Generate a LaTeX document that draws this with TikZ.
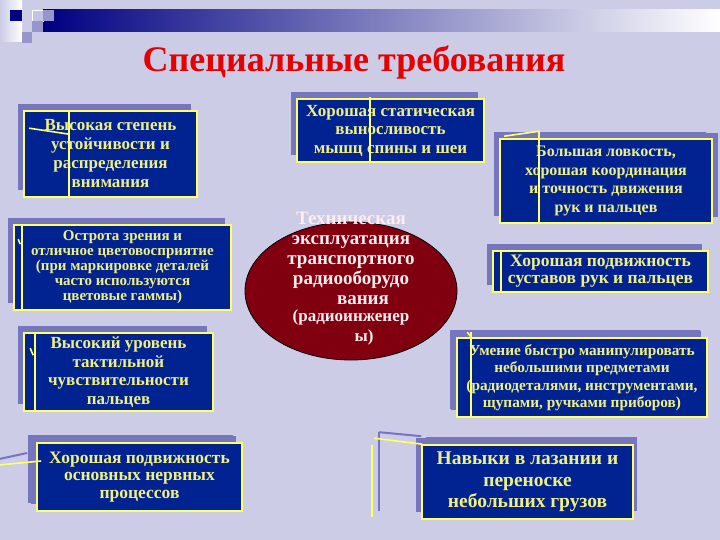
\documentclass[tikz,border=0pt]{standalone}
\usepackage{fontspec}
\setmainfont{Liberation Serif}
\usetikzlibrary{calc,shadows,shapes.geometric}

\definecolor{bgc}{RGB}{204,204,230}
\definecolor{boxfill}{RGB}{0,35,145}
\definecolor{boxedge}{RGB}{255,255,102}
\definecolor{boxtext}{RGB}{240,240,130}
\definecolor{shadowc}{RGB}{118,118,192}
\definecolor{corefill}{RGB}{128,0,16}
\definecolor{coretext}{RGB}{255,236,236}
\definecolor{titlered}{RGB}{230,0,0}
\definecolor{barnavy}{RGB}{0,0,128}
\definecolor{sqmid}{RGB}{150,150,205}
\definecolor{sqlight}{RGB}{195,195,228}

\begin{document}
\begin{tikzpicture}[
                x=1pt, y=-1pt,
                font=\bfseries,
                req/.style={draw=boxedge, line width=1.6pt, fill=boxfill, text=boxtext,
                    align=center, inner sep=0pt,
                    general shadow={fill=shadowc, shadow xshift=-6pt, shadow yshift=7pt}},
                leader/.style={draw=boxedge, line width=1.6pt},
                ghost/.style={draw=shadowc, line width=2pt},
                core/.style={draw=black, line width=0.8pt, fill=corefill, ellipse, inner sep=0pt},
            ]

            % ----- Slide background and header -----
            \useasboundingbox[fill=bgc] (0,0) rectangle (720,540);
            \shade[left color=bgc, right color=white] (0,0) rectangle (22,42);
            \shade[left color=barnavy, right color=white] (43,10) rectangle (720,32);
            \fill[barnavy] (10,10) rectangle (22,21);
            \filldraw[fill=sqlight, draw=white, line width=0.6pt] (32,10) rectangle (43,21);
            \fill[sqmid] (43,10) rectangle (54,21);
            \fill[sqmid] (32,21) rectangle (43,32);
            \fill[sqmid] (22,32) rectangle (32,43);

            \node[text=titlered, font=\fontsize{36}{40}\selectfont\bfseries] (title) at (354,62)
                {Специальные требования};

            % ----- Centre -----
            \node[core, minimum width=212, minimum height=138] (core) at (351,291) {};
            \node[text=coretext, align=center, text width=170, inner sep=0pt,
                font=\fontsize{19}{20}\selectfont\bfseries] (coretxt) at (351,279)
                {Техническая\\эксплуатация\\транспортного\\радиооборудо\\\hspace*{24pt}вания\\
                 \fontsize{17}{17}\selectfont(радиоинженер\\\hspace*{26pt}ы)};

            % ----- Left column -----
            \node[req, minimum width=173, minimum height=86, font=\fontsize{17}{19}\selectfont\bfseries]
                (steady) at (110.5,154)
                {Высокая степень\\устойчивости и\\распределения\\внимания};
            \node[req, minimum width=217, minimum height=85, font=\fontsize{15}{15}\selectfont\bfseries]
                (vision) at (122.5,267.5)
                {Острота зрения и\\отличное цветовосприятие\\(при маркировке деталей\\часто используются\\цветовые гаммы)};
            \node[req, minimum width=189, minimum height=78, font=\fontsize{17}{18.5}\selectfont\bfseries]
                (touch) at (118.5,372)
                {Высокий уровень\\тактильной\\чувствительности\\пальцев};
            \node[req, minimum width=205, minimum height=68, font=\fontsize{17.5}{17.5}\selectfont\bfseries,
                general shadow={fill=shadowc, shadow xshift=-9pt, shadow yshift=8pt}]
                (nerves) at (139.5,477)
                {Хорошая подвижность\\основных нервных\\процессов};

            % ----- Top and right column -----
            \node[req, minimum width=187, minimum height=63, font=\fontsize{17}{18.5}\selectfont\bfseries]
                (static) at (390.5,130.5)
                {Хорошая статическая\\выносливость\\мышц спины и шеи};
            \node[req, minimum width=212, minimum height=84, font=\fontsize{16}{18.5}\selectfont\bfseries,
                general shadow={fill=shadowc, shadow xshift=6pt, shadow yshift=6pt}]
                (skill) at (606,181)
                {Большая ловкость,\\хорошая координация\\и точность движения\\рук и пальцев};
            \node[req, minimum width=215, minimum height=41, font=\fontsize{17.5}{17}\selectfont\bfseries]
                (joints) at (600.5,271.5)
                {Хорошая подвижность\\суставов рук и пальцев};
            \node[req, minimum width=250, minimum height=79, font=\fontsize{15.3}{17.5}\selectfont\bfseries,
                general shadow={fill=shadowc, shadow xshift=-7pt, shadow yshift=8pt}]
                (handle) at (582,377.5)
                {Умение быстро манипулировать\\небольшими предметами\\(радиодеталями, инструментами,\\щупами, ручками приборов)};
            \node[req, minimum width=211, minimum height=74, font=\fontsize{19.5}{21.5}\selectfont\bfseries,
                general shadow={fill=shadowc, shadow xshift=4pt, shadow yshift=8pt}]
                (climb) at (527.5,482)
                {Навыки в лазании и\\переноске\\небольших грузов};

            % ----- Callout remains -----
            \draw[leader] ($(steady.north west)+(46,0)$) -- ($(steady.south west)+(46,0)$);
            \draw[leader] ($(steady.north west)+(6,18)$) -- ($(steady.north west)+(46,24)$);
            \draw[leader] ($(static.north west)+(74,-1)$) -- ($(static.south west)+(74,0)$);
            \draw[leader] ($(skill.north west)+(40,-7)$) -- ($(skill.south west)+(40,0)$);
            \draw[leader] ($(skill.north west)+(5,-2)$) -- ($(skill.north west)+(40,-7)$);
            \draw[leader] ($(vision.north west)+(9,0)$) -- ($(vision.south west)+(9,0)$);
            \draw[leader] ($(vision.north west)+(5,15)$) -- ($(vision.north west)+(7,20)$);
            \draw[leader] ($(joints.north west)+(9,0)$) -- ($(joints.south west)+(9,0)$);
            \draw[leader] ($(touch.north west)+(12,0)$) -- ($(touch.south west)+(12,0)$);
            \draw[leader] ($(touch.north west)+(7,16)$) -- ($(touch.north west)+(10,23)$);
            \draw[leader] ($(handle.north west)+(15,-5)$) -- ($(handle.south west)+(15,0)$);
            \draw[leader] ($(handle.north west)+(11,-5)$) -- ($(handle.north west)+(15,0)$);
            \draw[ghost] ($(nerves.west)+(-37,-18)$) -- ($(nerves.west)+(-9,-24)$);
            \draw[leader] ($(nerves.west)+(-37,-12)$) -- ($(nerves.west)+(5,-16)$);
            \draw[ghost] ($(climb.north west)+(-42,-12)$) -- ($(climb.north west)+(-42,67)$);
            \draw[ghost] ($(climb.north west)+(-42,-12)$) -- ($(climb.north west)+(0,-8)$);
            \draw[leader] ($(climb.north west)+(-49,1)$) -- ($(climb.north west)+(-49,73)$);
            \draw[leader] ($(climb.north west)+(-47,-6)$) -- ($(climb.north west)+(1,0)$);

\end{tikzpicture}
\end{document}
